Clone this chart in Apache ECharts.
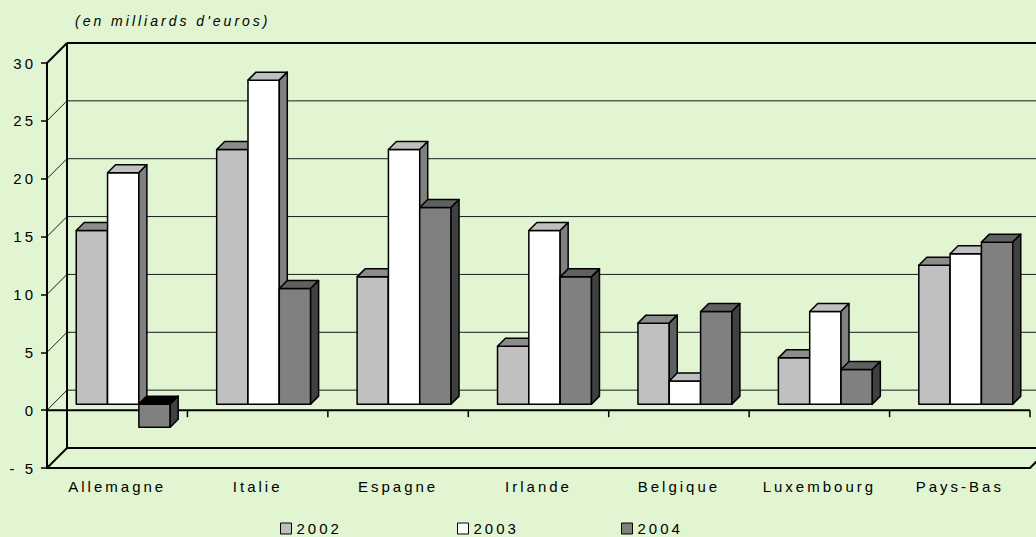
<!DOCTYPE html>
<html><head><meta charset="utf-8">
<script src="https://cdn.jsdelivr.net/npm/echarts@6/dist/echarts.min.js"></script>
<style>
html,body{margin:0;padding:0;background:#E1F5D2;}
#chart{width:1036px;height:537px;}
#chart text{letter-spacing:3px;}
</style></head><body><div id="chart"></div>
<script>
const categories = ['Allemagne','Italie','Espagne','Irlande','Belgique','Luxembourg','Pays-Bas'];
const years = ['2002','2003','2004'];
const v2002 = [15, 22, 11, 5, 7, 4, 12];
const v2003 = [20, 28, 22, 15, 2, 8, 13];
const v2004 = [-2, 10, 17, 11, 8, 3, 14];
const yTicks = [-5, 0, 5, 10, 15, 20, 25, 30];

const FONT = "'Liberation Sans', Arial, sans-serif";
const DX = 20, DY = -20;     // wall depth offset
const BDX = 6, BDY = -6;     // bar plane offset from front
const BD = 8;                // bar depth
const faces = {
  '2002': {front:'#C0C0C0', top:'#8C8C8C', side:'#606060', negTop:'#303030'},
  '2003': {front:'#FFFFFF', top:'#C0C0C0', side:'#808080', negTop:'#505050'},
  '2004': {front:'#808080', top:'#606060', side:'#404040', negTop:'#000000'}
};

function barRender(year, sIdx){
  return function(params, api){
    const cat = api.value(0), val = api.value(1);
    const p0 = api.coord([cat, 0]), p1 = api.coord([cat, val]);
    const cw = api.size([1, 0])[0];
    const bw = cw * 0.223;
    const x0 = p0[0] - 1.5 * bw + sIdx * bw + BDX;
    const yA = p0[1] + BDY, yB = p1[1] + BDY;
    const yt = Math.min(yA, yB), yb = Math.max(yA, yB);
    const c = faces[year];
    const topColor = val < 0 ? c.negTop : c.top;
    const st = {stroke:'#000', lineWidth:1.5, lineJoin:'round'};
    return {type:'group', children:[
      {type:'rect', shape:{x:x0, y:yt, width:bw, height:yb-yt}, style:Object.assign({fill:c.front}, st)},
      {type:'polygon', shape:{points:[[x0,yt],[x0+BD,yt-BD],[x0+bw+BD,yt-BD],[x0+bw,yt]]}, style:Object.assign({fill:topColor}, st)},
      {type:'polygon', shape:{points:[[x0+bw,yt],[x0+bw+BD,yt-BD],[x0+bw+BD,yb-BD],[x0+bw,yb]]}, style:Object.assign({fill:c.side}, st)}
    ]};
  };
}

const yMin = yTicks[0], yMax = yTicks[yTicks.length-1];
function frameRender(params, api){
  const v = api.value(1);
  const p = api.coord([0, v]);
  const cw = api.size([1, 0])[0];
  const xL = p[0] - cw / 2;
  const xR = xL + cw * categories.length;
  const y = p[1];
  const edge = (v === yMin || v === yMax);
  const col = edge ? '#000' : '#1a1a1a';
  const lw = edge ? 2 : 1;
  const ch = [
    {type:'line', shape:{x1:xL+DX, y1:y+DY, x2:xR+DX+40, y2:y+DY}, style:{stroke:col, lineWidth:lw}},
    {type:'line', shape:{x1:xL, y1:y, x2:xL+DX, y2:y+DY}, style:{stroke:col, lineWidth:lw}}
  ];
  if (v === yMax) {
    const yb = api.coord([0, yMin])[1];
    ch.push({type:'line', shape:{x1:xL+DX, y1:y+DY, x2:xL+DX, y2:yb+DY}, style:{stroke:'#000', lineWidth:2}});
  }
  if (v === 0) {
    ch.push({type:'line', shape:{x1:xL, y1:y, x2:xR, y2:y}, style:{stroke:'#000', lineWidth:2}});
    for (let k = 1; k <= categories.length; k++) {
      ch.push({type:'line', shape:{x1:xL+k*cw, y1:y, x2:xL+k*cw, y2:y+7}, style:{stroke:'#000', lineWidth:1.5}});
    }
  }
  if (v === yMin) {
    ch.push({type:'line', shape:{x1:xR, y1:y, x2:xR+DX, y2:y+DY}, style:{stroke:'#000', lineWidth:2}});
  }
  return {type:'group', children:ch};
}

const seriesVals = [v2002, v2003, v2004];
const series = [{
  type:'custom', name:'frame', renderItem:frameRender, silent:true, z:1,
  data: yTicks.map(v => [0, v]), encode:{x:0, y:1}
}];
years.forEach((yr, i) => {
  series.push({
    type:'custom', name:yr, z:3,
    renderItem: barRender(yr, i),
    itemStyle:{color:faces[yr].front, borderColor:'#000', borderWidth:1},
    data: seriesVals[i].map((v, j) => [j, v]),
    encode:{x:0, y:1}
  });
});

const legendLefts = [280, 457, 621];
const legends = years.map((yr, i) => ({
  data:[yr], left:legendLefts[i], top:521, padding:0, icon:'rect',
  itemWidth:11, itemHeight:11, itemGap:0, selectedMode:false,
  itemStyle:{borderColor:'#000', borderWidth:1},
  textStyle:{color:'#000', fontSize:15, fontFamily:FONT}
}));

const chart = echarts.init(document.getElementById('chart'), null, {renderer:'svg'});
chart.setOption({
  animation:false,
  backgroundColor:'#E1F5D2',
  title:{text:"(en milliards d'euros)", left:75, top:14, padding:0,
    textStyle:{fontSize:14, fontStyle:'italic', fontWeight:'normal', color:'#000', fontFamily:FONT}},
  legend:legends,
  grid:{left:47, right:6, top:63, bottom:69},
  xAxis:{type:'category', data:categories,
    axisLine:{onZero:false, lineStyle:{color:'#000', width:2}},
    axisTick:{length:7, lineStyle:{color:'#000', width:1.5}},
    axisLabel:{color:'#000', fontSize:15, margin:11, interval:0, fontFamily:FONT},
    splitLine:{show:false}},
  yAxis:{type:'value', min:yMin, max:yMax, interval:5,
    axisLine:{show:true, lineStyle:{color:'#000', width:2}},
    axisTick:{show:true, length:6, lineStyle:{color:'#000', width:1.5}},
    splitLine:{show:false},
    axisLabel:{color:'#000', fontSize:15, margin:11, fontFamily:FONT,
      formatter: v => v < 0 ? '- ' + (-v) : String(v)}},
  series:series
});
</script></body></html>
